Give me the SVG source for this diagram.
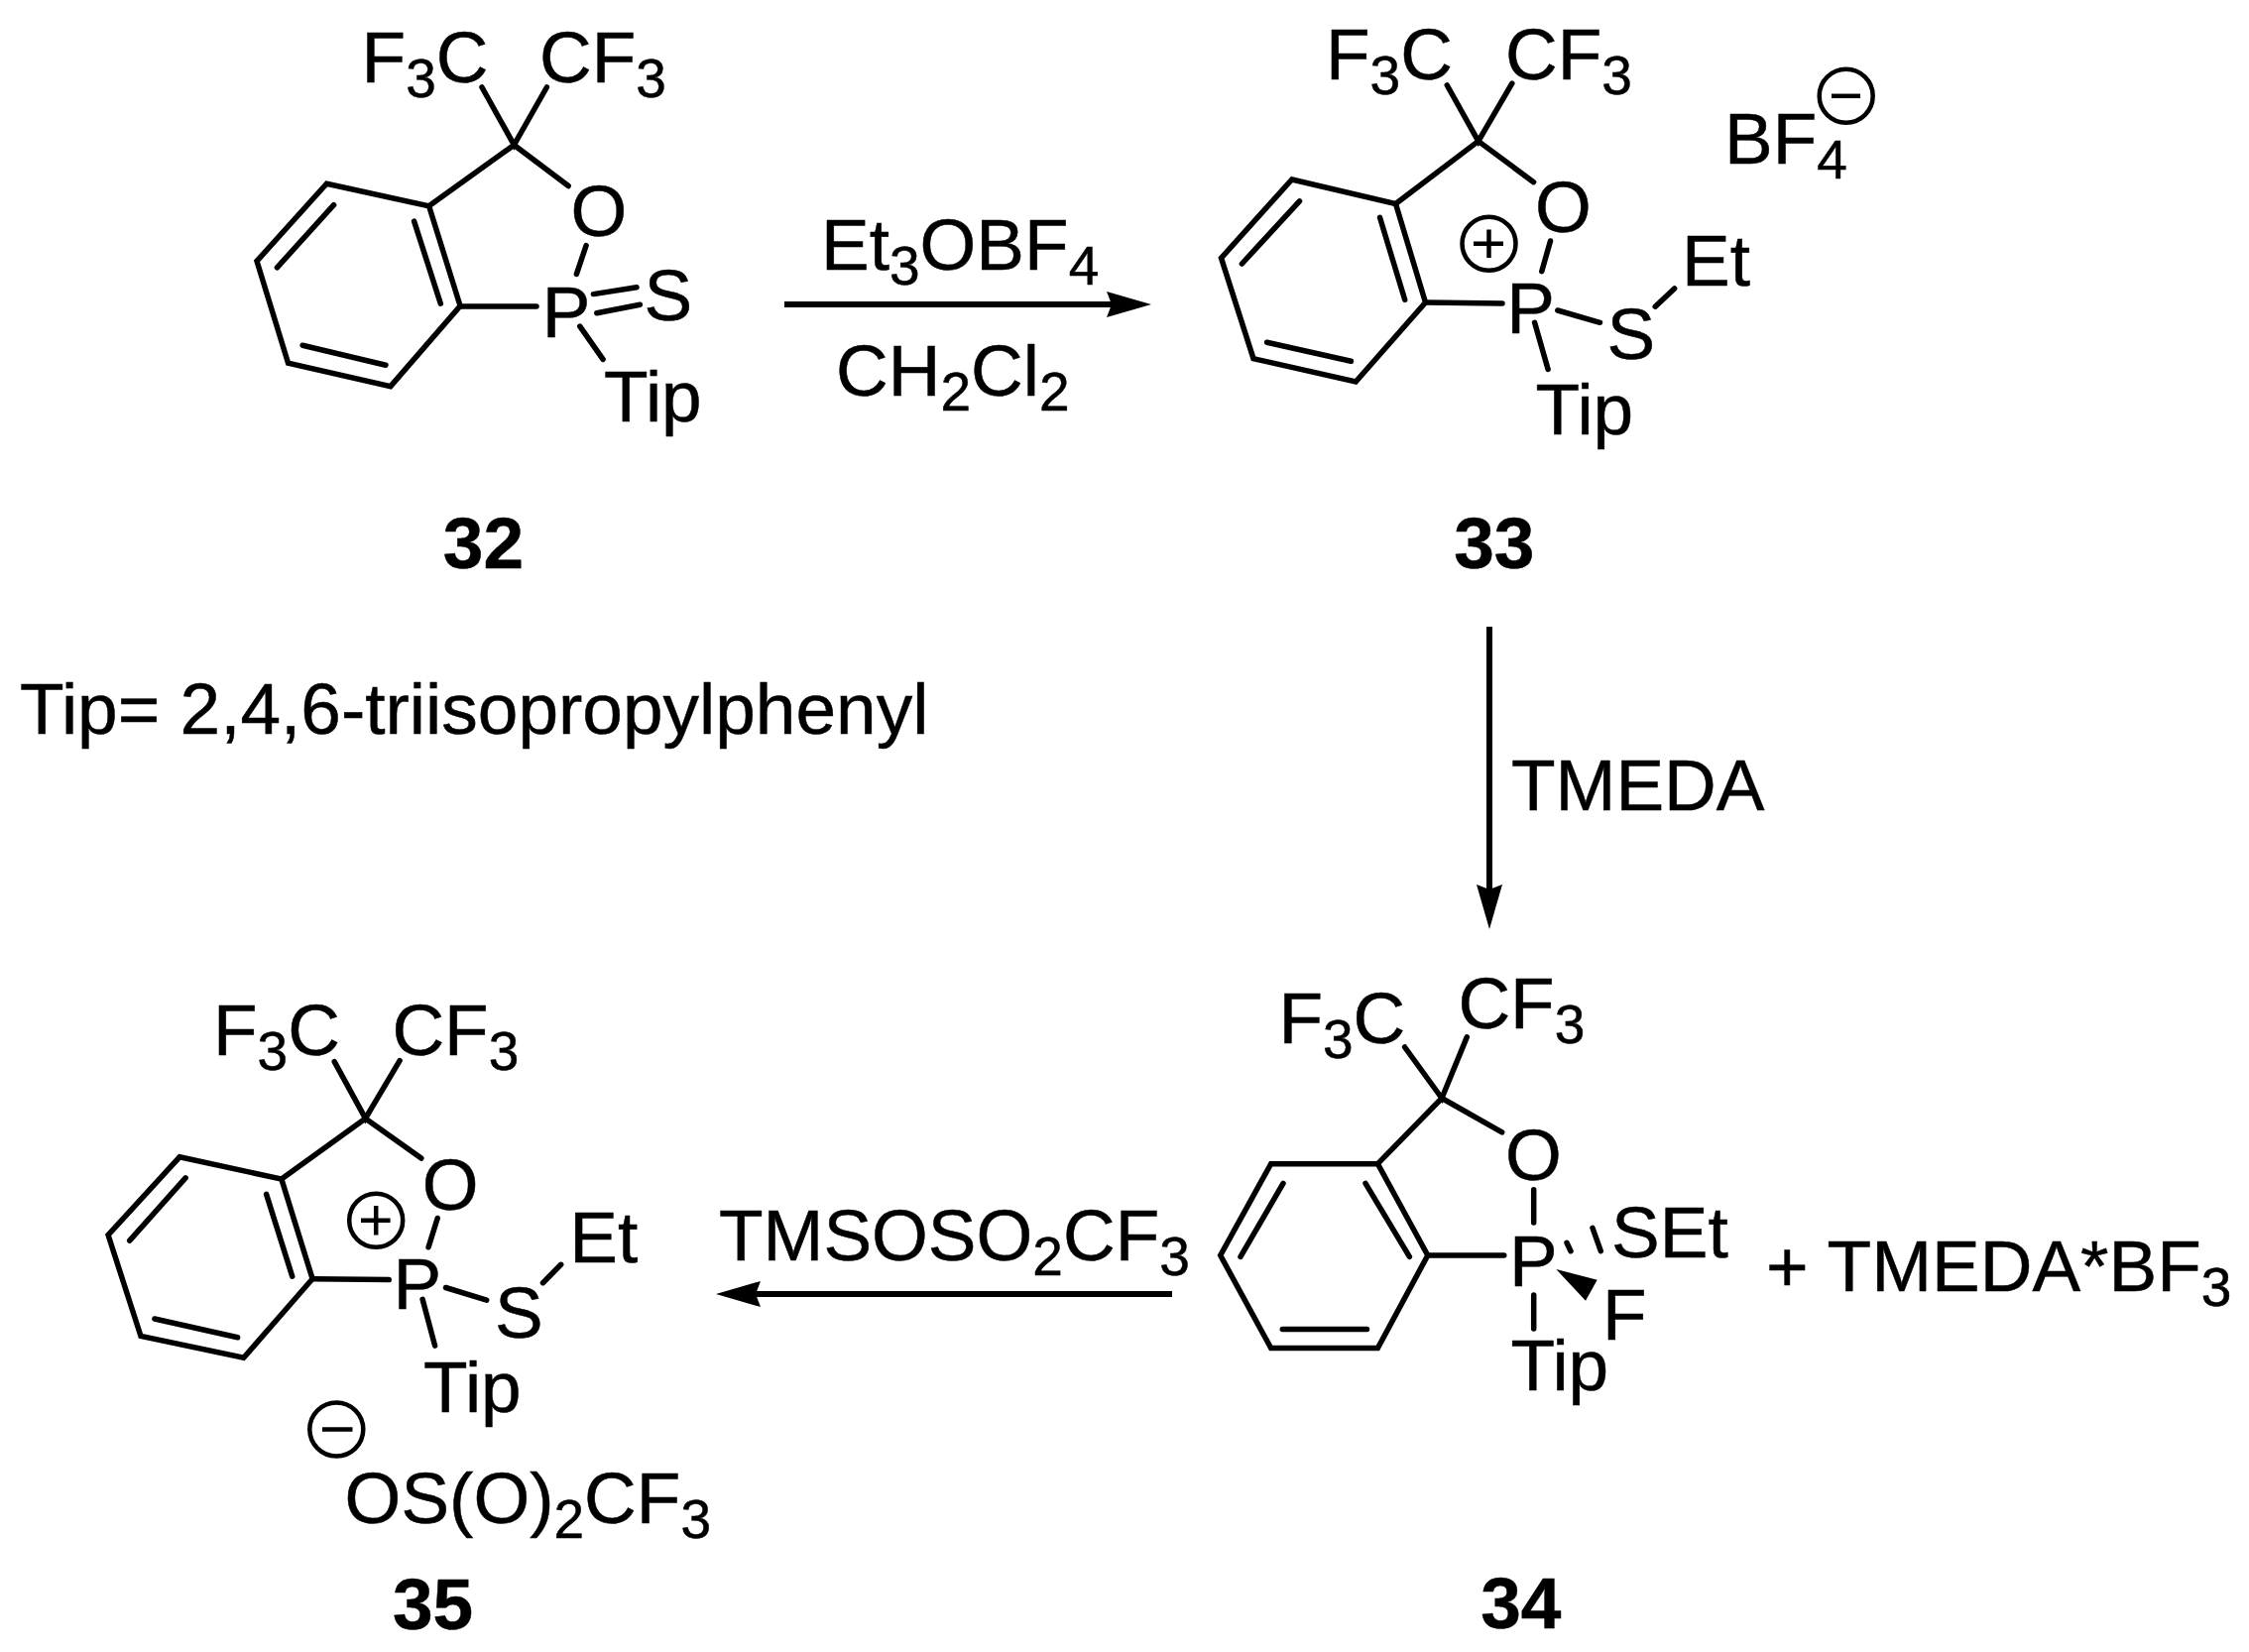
<svg xmlns="http://www.w3.org/2000/svg" width="2268" height="1666" viewBox="0 0 2268 1666">
<style>
text{font-family:"Liberation Sans",Arial,sans-serif;font-size:73px;fill:#000;stroke:#000;stroke-width:.5}
.n{font-weight:bold}
.s{font-size:55px}
.b{fill:none;stroke:#000;stroke-width:5.5;stroke-linejoin:miter;stroke-linecap:round}
.c{fill:none;stroke:#000;stroke-width:4.5}
.a{fill:none;stroke:#000;stroke-width:6}
</style>
<defs><marker id="h" markerUnits="userSpaceOnUse" markerWidth="46" markerHeight="26" refX="5" refY="13" orient="auto" viewBox="0 0 46 26"><path d="M45,13L0,0L5,13L0,26Z" fill="#000"/></marker></defs>
<rect width="2268" height="1666" fill="#fff"/>
<g id="connectors">
<path class="a" d="M791,307H1121" marker-end="url(#h)"/>
<path class="a" d="M1502,632V897" marker-end="url(#h)"/>
<path class="a" d="M1182,1305H762" marker-end="url(#h)"/>
</g>
<g id="m32">
<path class="b" d="M329.4,185.2L432.6,207.8L464.1,308.5L393.8,389.6L290.6,366.2L259,263.3Z"/>
<path class="b" d="M417.6,223.1L444.3,306.2M336.6,206.7L279.4,269.8M305.1,348.3L389,368.2M464,309H541M432.6,207.8L518.4,146.2M486,88L518.4,146.2L551.4,88M518.4,146.2L573.2,187.5M591.1,247.6L581.4,276.3M598.4,296.6L642,289.7M601.8,315.7L645.4,307.3M584.8,329.1L608.1,362.4"/>
<text x="364.6" y="83.4">F<tspan class="s" dy="15">3</tspan><tspan dy="-15">C</tspan></text>
<text x="544" y="83.4">CF<tspan class="s" dy="15">3</tspan></text>
<text x="575.5" y="237.5">O</text>
<text x="546.8" y="339.5">P</text>
<text x="649.5" y="322.5">S</text>
<text x="609" y="424.8">Tip</text>
<text class="n" x="487.4" y="573" text-anchor="middle">32</text>
</g>
<g id="r1">
<text x="828" y="271.7">Et<tspan class="s" dy="15">3</tspan><tspan dy="-15">OBF</tspan><tspan class="s" dy="15">4</tspan></text>
<text x="843" y="399">CH<tspan class="s" dy="15">2</tspan><tspan dy="-15">Cl</tspan><tspan class="s" dy="15">2</tspan></text>
</g>
<g id="m33">
<path class="b" d="M1302.8,181L1407.5,205.5L1437.5,305L1367.2,385L1264,361.7L1231.5,260.2Z"/>
<path class="b" d="M1391.5,219.3L1416.7,302.3M1310.5,202.8L1252.4,266M1277.6,345.2L1362.4,364.3M1437.5,305L1515,306M1407.5,205.5L1490.8,142.4M1459.3,86L1490.8,142.4L1524.8,84.2M1490.8,142.4L1546.6,183.7M1563.5,243L1554.8,273.6M1570.8,313L1613.5,325.3M1669.2,309.2L1688.6,290.9M1547.6,325.3L1561.1,372.4"/>
<circle class="c" cx="1501.5" cy="245.7" r="27"/>
<path class="c" d="M1486,245.7H1516M1501.5,231.5V260"/>
<circle class="c" cx="1861.7" cy="96.8" r="27"/>
<path class="c" d="M1847,96.8H1876"/>
<text x="1337" y="79.6">F<tspan class="s" dy="15">3</tspan><tspan dy="-15">C</tspan></text>
<text x="1518" y="79.6">CF<tspan class="s" dy="15">3</tspan></text>
<text x="1739" y="165.3">BF<tspan class="s" dy="15">4</tspan></text>
<text x="1548" y="234">O</text>
<text x="1519.3" y="335.6">P</text>
<text x="1620.5" y="362">S</text>
<text x="1696" y="287.8">Et</text>
<text x="1548.5" y="438">Tip</text>
<text class="n" x="1506.8" y="573" text-anchor="middle">33</text>
</g>
<g id="note"><text x="20" y="740">Tip= 2,4,6-triisopropylphenyl</text></g>
<g id="r2"><text x="1524" y="817">TMEDA</text></g>
<g id="m34">
<path class="b" d="M1281.7,1173.7H1389.4L1439.8,1266L1389.4,1359.6H1281.7L1230.7,1266Z"/>
<path class="b" d="M1377,1193.4L1421.4,1267.4M1294,1193.4L1251,1267.4M1293.3,1340.4H1378.5M1439.8,1266H1516.8M1389.4,1173.7L1454,1107.5M1416.6,1056L1454,1107.5L1479.3,1045.9M1454,1107.5L1514.7,1141.8M1546.7,1199.8V1233M1546.7,1306V1340M1580,1253.3L1584,1261.7M1606,1238.3L1614.3,1261.7"/>
<path d="M1569.3,1280L1610.7,1290.7L1599,1311.7Z" fill="#000"/>
<text x="1289.4" y="1051.8">F<tspan class="s" dy="15">3</tspan><tspan dy="-15">C</tspan></text>
<text x="1470.4" y="1036.8">CF<tspan class="s" dy="15">3</tspan></text>
<text x="1518" y="1189.7">O</text>
<text x="1522" y="1296.7">P</text>
<text x="1625" y="1268.3">SEt</text>
<text x="1616" y="1350.5">F</text>
<text x="1523.5" y="1402">Tip</text>
<text class="n" x="1533.8" y="1641.8" text-anchor="middle">34</text>
</g>
<g id="byproduct"><text x="1781" y="1301.6">+ TMEDA*BF<tspan class="s" dy="15">3</tspan></text></g>
<g id="r3"><text x="725" y="1270.7">TMSOSO<tspan class="s" dy="15">2</tspan><tspan dy="-15">CF</tspan><tspan class="s" dy="15">3</tspan></text></g>
<g id="m35">
<path class="b" d="M181.1,1166.8L283.9,1189.1L315.1,1289.7L245.7,1369.3L142,1347.5L109.1,1245.5Z"/>
<path class="b" d="M268.6,1204.4L294.7,1287.1M187.1,1187.8L130.7,1251.2M155.9,1330L239.6,1348.8M315.1,1289.7L392.2,1290.6M283.9,1189.1L368.5,1127.9M337.2,1070.6L368.5,1127.9L403.1,1069.7M368.5,1127.9L424.8,1168.1M441.2,1228.5L432.1,1257.8M449.5,1298.5L490.7,1311.1M547.5,1293.7L565.7,1275.3M426.1,1310.3L438.6,1357.1"/>
<circle class="c" cx="379.2" cy="1230.7" r="27"/>
<path class="c" d="M364,1230.7H393.6M379.2,1216V1245.5"/>
<circle class="c" cx="339.3" cy="1441.5" r="27"/>
<path class="c" d="M325,1441.5H355.5"/>
<text x="215" y="1064">F<tspan class="s" dy="15">3</tspan><tspan dy="-15">C</tspan></text>
<text x="395.4" y="1064">CF<tspan class="s" dy="15">3</tspan></text>
<text x="425.7" y="1219.7">O</text>
<text x="396.4" y="1320.3">P</text>
<text x="499" y="1348.8">S</text>
<text x="574.3" y="1273">Et</text>
<text x="427" y="1424">Tip</text>
<text x="347.6" y="1535.6">OS(O)<tspan class="s" dy="15">2</tspan><tspan dy="-15">CF</tspan><tspan class="s" dy="15">3</tspan></text>
<text class="n" x="436.5" y="1642.7" text-anchor="middle">35</text>
</g>
</svg>
